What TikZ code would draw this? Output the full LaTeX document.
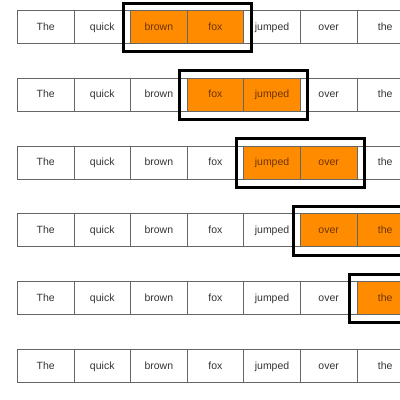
\documentclass[tikz,border=0pt]{standalone}
\usepackage{fontspec}
\setmainfont{Liberation Sans}
\begin{document}
\begin{tikzpicture}[x=1pt,y=-1pt,
  cell/.style={draw=black!60,line width=0.7pt,minimum width=56.6pt,minimum height=33pt,inner sep=0pt,text height=1.55ex,text depth=0.3ex,anchor=north west,font=\fontsize{10.5}{12}\selectfont,text=black!80},
  hot/.style={fill={rgb,255:red,255;green,140;blue,0},text={rgb,255:red,110;green,50;blue,0}},
  hl/.style={draw=black,line width=3pt}]
\useasboundingbox (0,0) rectangle (400,400);
\fill[white] (0,0) rectangle (400,400);
\def\words{{"The","quick","brown","fox","jumped","over","the"}}
\foreach \r in {1,...,6}{
  \foreach \k in {1,...,7}{
    \pgfmathsetmacro{\xx}{17+(\k-1)*56.6}
    \pgfmathsetmacro{\yy}{10+(\r-1)*67.8}
    \pgfmathsetmacro{\hot}{(\r<6)&&((\k==\r+2)||(\k==\r+3)) ? 1 : 0}
    \pgfmathparse{\words[\k-1]}\let\w\pgfmathresult
    \ifdim\hot pt>0.5pt
      \node[cell,hot] (c\r-\k) at (\xx,\yy) {\w};
    \else
      \node[cell] (c\r-\k) at (\xx,\yy) {\w};
    \fi
  }
}
\draw[hl] ([xshift=-7pt,yshift=7pt]c1-3.north west) rectangle ([xshift=7pt,yshift=-8pt]c1-4.south east);
\draw[hl] ([xshift=-7pt,yshift=7pt]c2-4.north west) rectangle ([xshift=7pt,yshift=-8pt]c2-5.south east);
\draw[hl] ([xshift=-7pt,yshift=7pt]c3-5.north west) rectangle ([xshift=7pt,yshift=-8pt]c3-6.south east);
\draw[hl] ([xshift=-7pt,yshift=7pt]c4-6.north west) rectangle ([xshift=7pt,yshift=-8pt]c4-7.south east);
\draw[hl] ([xshift=-7pt,yshift=7pt]c5-7.north west) rectangle ([xshift=7pt,yshift=-8pt]c5-7.south east);
\end{tikzpicture}
\end{document}
